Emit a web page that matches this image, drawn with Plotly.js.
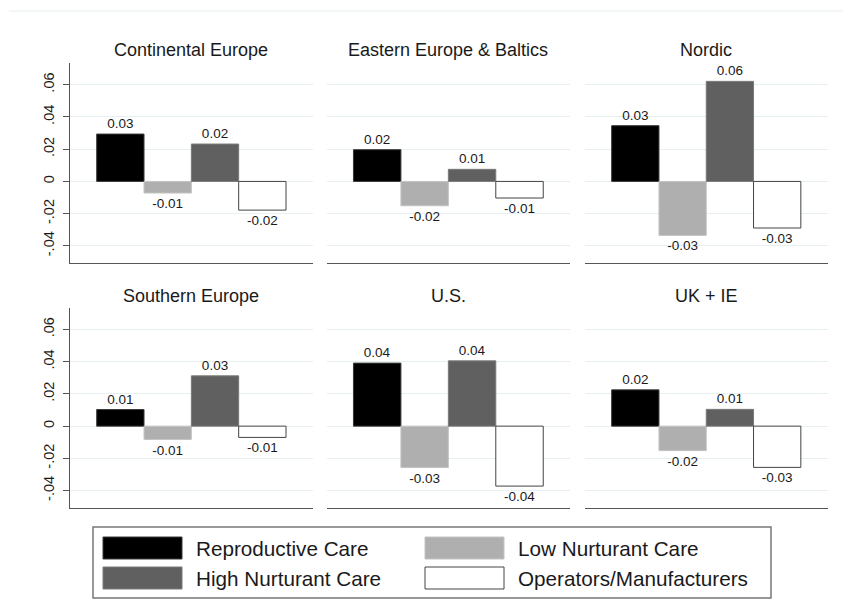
<!DOCTYPE html>
<html>
<head>
<meta charset="utf-8">
<script src="https://cdn.plot.ly/plotly-3.0.1.min.js"></script>
<style>html,body{margin:0;padding:0;background:#fff;}#chart{width:843px;height:616px;}</style>
</head>
<body>
<div id="chart"></div>
<script>
// ---- data ----
const regions = ["Continental Europe", "Eastern Europe & Baltics", "Nordic", "Southern Europe", "U.S.", "UK + IE"];
const seriesNames = ["Reproductive Care", "Low Nurturant Care", "High Nurturant Care", "Operators/Manufacturers"];
const reproductiveCare  = [0.0294, 0.0197, 0.0346, 0.0103, 0.0391, 0.0225];
const lowNurturantCare  = [-0.0072, -0.0151, -0.0335, -0.0083, -0.0257, -0.0152];
const highNurturantCare = [0.0232, 0.0075, 0.0621, 0.0312, 0.0405, 0.0104];
const operatorsManuf    = [-0.0178, -0.0103, -0.0289, -0.0070, -0.0372, -0.0256];
const yTickVals = [-0.04, -0.02, 0, 0.02, 0.04, 0.06];
const yTickText = ["-.04", "-.02", "0", ".02", ".04", ".06"];

// ---- styles ----
const W = 843, H = 616;
const fills = ["#000000", "#afafaf", "#606060", "#ffffff"];
const edges = ["#3a3a3a", "#c4c4c4", "#7a7a7a", "#444444"];
const seriesVals = [reproductiveCare, lowNurturantCare, highNurturantCare, operatorsManuf];
const FONT = "Liberation Sans, Arial, sans-serif";

const colDom = [[70, 312.7], [326.7, 570], [585, 827.5]];
const rowDom = [[63.3, 263.3], [308, 508]];
const yRange = [-0.0508, 0.0733];

const traces = [];
const layout = {
  width: W, height: H,
  margin: {l: 0, r: 0, t: 0, b: 0},
  paper_bgcolor: "#ffffff", plot_bgcolor: "#ffffff",
  barmode: "group", bargap: 0.22, bargroupgap: 0,
  showlegend: false,
  font: {family: FONT, color: "#1a1a1a"},
  annotations: [], shapes: []
};

regions.forEach((reg, i) => {
  const r = Math.floor(i / 3), c = i % 3;
  const n = i + 1;
  const xa = "xaxis" + (n === 1 ? "" : n), ya = "yaxis" + (n === 1 ? "" : n);
  const xr = "x" + (n === 1 ? "" : n), yr = "y" + (n === 1 ? "" : n);
  layout[xa] = {
    domain: [colDom[c][0] / W, colDom[c][1] / W],
    anchor: yr, type: "category", range: [-0.5, 0.5],
    showticklabels: false, ticks: "", showgrid: false, zeroline: false,
    showline: true, linecolor: "#555555", linewidth: 1, fixedrange: true
  };
  layout[ya] = {
    domain: [1 - rowDom[r][1] / H, 1 - rowDom[r][0] / H],
    anchor: xr, range: yRange,
    tickvals: yTickVals, ticktext: yTickText,
    showticklabels: c === 0, tickangle: -90,
    tickfont: {family: FONT, size: 14.5, color: "#1a1a1a"},
    ticks: c === 0 ? "outside" : "", ticklen: 6, tickcolor: "#555555", tickwidth: 1,
    ticklabelstandoff: 3,
    showline: c === 0, linecolor: "#555555", linewidth: 1,
    showgrid: true, gridcolor: "#e6eff1", gridwidth: 1,
    zeroline: false, fixedrange: true
  };
  seriesNames.forEach((s, k) => {
    const v = seriesVals[k][i];
    traces.push({
      type: "bar", name: s, x: [""], y: [v],
      xaxis: xr, yaxis: yr, offsetgroup: String(k),
      marker: {color: fills[k], line: {color: edges[k], width: 1}},
      text: [v.toFixed(2)], textposition: "outside", constraintext: "none",
      textfont: {family: FONT, size: 13.5, color: "#1a1a1a"},
      cliponaxis: false, hoverinfo: "skip"
    });
  });
  layout.annotations.push({
    xref: "paper", yref: "paper",
    x: (colDom[c][0] + colDom[c][1]) / 2 / W,
    y: 1 - (r === 0 ? 50 : 296) / H,
    xanchor: "center", yanchor: "middle", showarrow: false,
    text: reg, font: {family: FONT, size: 18, color: "#1a1a1a"}
  });
});

// faint top rule
layout.shapes.push({type: "line", xref: "paper", yref: "paper",
  x0: 9 / W, x1: 1, y0: 1 - 11 / H, y1: 1 - 11 / H,
  line: {color: "#e8eeee", width: 1}});

// legend box
layout.shapes.push({type: "rect", xref: "paper", yref: "paper",
  x0: 93 / W, x1: 771 / W, y0: 1 - 598 / H, y1: 1 - 527 / H,
  line: {color: "#777777", width: 1.5}, fillcolor: "rgba(0,0,0,0)"});
const legPos = [[103, 537], [425, 537], [103, 567], [425, 567]];
seriesNames.forEach((s, k) => {
  const [lx, ly] = legPos[k];
  layout.shapes.push({type: "rect", xref: "paper", yref: "paper",
    x0: lx / W, x1: (lx + 79) / W, y0: 1 - (ly + 22) / H, y1: 1 - ly / H,
    line: {color: edges[k], width: 1}, fillcolor: fills[k]});
  layout.annotations.push({xref: "paper", yref: "paper",
    x: (lx + 91) / W, y: 1 - (ly + 11) / H, xanchor: "left", yanchor: "middle",
    showarrow: false, text: s, font: {family: FONT, size: 20.7, color: "#1a1a1a"}});
});

Plotly.newPlot("chart", traces, layout, {displayModeBar: false, staticPlot: true});
</script>
</body>
</html>
